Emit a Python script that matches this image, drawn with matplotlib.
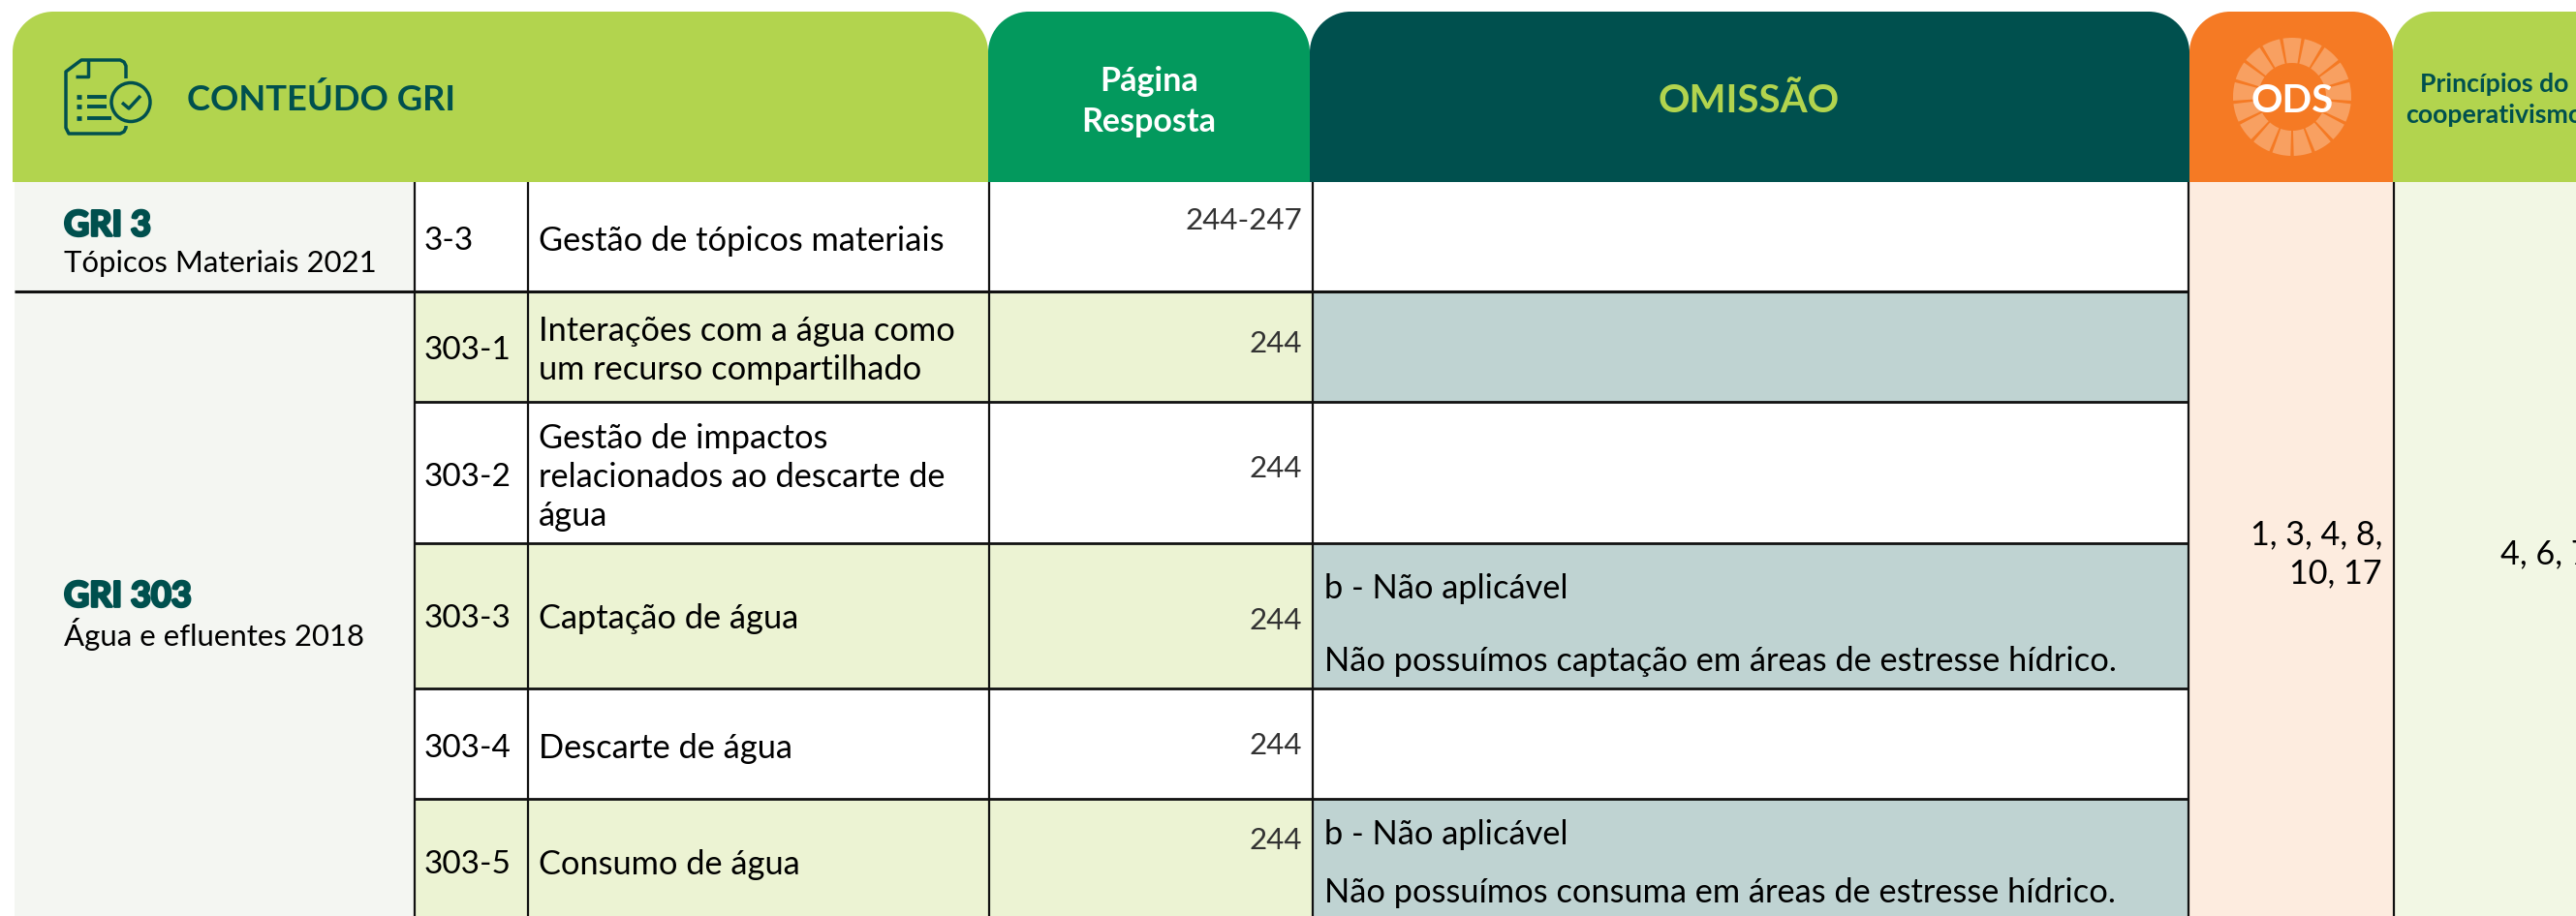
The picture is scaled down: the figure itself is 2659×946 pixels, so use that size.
import matplotlib
matplotlib.use("Agg")
import matplotlib.pyplot as plt
import matplotlib.patheffects as pe
from matplotlib.patches import Rectangle, Wedge, Circle, PathPatch
from matplotlib.path import Path

plt.rcParams['font.family'] = ['Lato', 'Open Sans', 'DejaVu Sans']

# colours
LIME = '#B2D44E'
GREEN = '#03995D'
TEAL = '#00504E'
ORANGE = '#F57A24'
LIME_PALE = '#ECF3D3'
GREY_PALE = '#F4F6F2'
BLUE_PALE = '#BFD3D2'
ORANGE_PALE = '#FDECDF'
LIME_PALER = '#F2F7E4'

# table content
headers = ['CONTEÚDO GRI', 'Página\nResposta', 'OMISSÃO', 'ODS', 'Princípios do\ncooperativismo']
group_names = ['GRI 3', 'GRI 303']
group_subtitles = ['Tópicos Materiais 2021', 'Água e efluentes 2018']
codes = ['3-3', '303-1', '303-2', '303-3', '303-4', '303-5']
titles = ['Gestão de tópicos materiais',
          'Interações com a água como\num recurso compartilhado',
          'Gestão de impactos\nrelacionados ao descarte de\nágua',
          'Captação de água',
          'Descarte de água',
          'Consumo de água']
pages = ['244-247', '244', '244', '244', '244', '244']
omission_first = ['', '', '', 'b - Não aplicável', '', 'b - Não aplicável']
omission_second = ['', '', '', 'Não possuímos captação em áreas de estresse hídrico.', '',
                   'Não possuímos consuma em áreas de estresse hídrico.']
ods_text = '1, 3, 4, 8,\n10, 17'
principles_text = '4, 6, 7'

# layout, in pixels of the 2659x946 picture
W, H = 2659, 946
col_x = [15, 428, 545, 1021, 1355, 2259, 2471]
row_y = [188, 301, 415, 561, 711, 825, 960]
head_edges = [13, 1020, 1352, 2260, 2470, 2720]
head_top = 12
text_y = [249, 362, 493, 639, 773, 893]
page_y = [228, 355, 484, 641, 770, 868]
omission_y = [None, None, None, (608, 683), None, (862, 922)]

fig = plt.figure(figsize=(W / 100, H / 100), dpi=100)
ax = fig.add_axes([0, 0, 1, 1])
ax.set_xlim(0, W)
ax.set_ylim(H, 0)
ax.axis('off')


def header_box(x0, x1, color, radius=42):
    # rounded on top, square at the bottom
    y0, y1 = head_top, row_y[0]
    k = 0.55 * radius
    verts = [(x0, y1), (x0, y0 + radius), (x0, y0 + radius - k), (x0 + radius - k, y0), (x0 + radius, y0),
             (x1 - radius, y0), (x1 - radius + k, y0), (x1, y0 + radius - k), (x1, y0 + radius),
             (x1, y1), (x0, y1)]
    c = [Path.MOVETO, Path.LINETO, Path.CURVE4, Path.CURVE4, Path.CURVE4,
         Path.LINETO, Path.CURVE4, Path.CURVE4, Path.CURVE4,
         Path.LINETO, Path.CLOSEPOLY]
    ax.add_patch(PathPatch(Path(verts, c), facecolor=color, edgecolor='none', zorder=2))


for i, color in enumerate([LIME, GREEN, TEAL, ORANGE, LIME]):
    header_box(head_edges[i], head_edges[i + 1], color)

# body fills
for i in range(6):
    y0, y1 = row_y[i], row_y[i + 1]
    stripe = i in (1, 3, 5)
    ax.add_patch(Rectangle((col_x[1], y0), col_x[4] - col_x[1], y1 - y0,
                           facecolor=LIME_PALE if stripe else 'white', edgecolor='none', zorder=1))
    ax.add_patch(Rectangle((col_x[4], y0), col_x[5] - col_x[4], y1 - y0,
                           facecolor=BLUE_PALE if stripe else 'white', edgecolor='none', zorder=1))
ax.add_patch(Rectangle((col_x[0], row_y[0]), col_x[1] - col_x[0], H - row_y[0], facecolor=GREY_PALE, edgecolor='none', zorder=1))
ax.add_patch(Rectangle((col_x[5], row_y[0]), col_x[6] - col_x[5], H - row_y[0], facecolor=ORANGE_PALE, edgecolor='none', zorder=1))
ax.add_patch(Rectangle((col_x[6], row_y[0]), W - col_x[6], H - row_y[0], facecolor=LIME_PALER, edgecolor='none', zorder=1))

# grid lines
for x in col_x[1:7]:
    ax.plot([x, x], [row_y[0], H], color='#111111', lw=1.6, zorder=3, solid_capstyle='butt')
ax.plot([col_x[0], col_x[5]], [row_y[1], row_y[1]], color='#111111', lw=2.2, zorder=3, solid_capstyle='butt')
for y in row_y[2:6]:
    ax.plot([col_x[1], col_x[5]], [y, y], color='#111111', lw=2.0, zorder=3, solid_capstyle='butt')

# header texts
ax.text(193, 103, headers[0], fontsize=26.2, fontweight='bold', color=TEAL, va='center', ha='left', zorder=5)
ax.text(1186, 105, headers[1], fontsize=24.5, fontweight='bold', color='white', va='center', ha='center', linespacing=1.41, zorder=5)
ax.text(1805, 105, headers[2], fontsize=29, fontweight='bold', color=LIME, va='center', ha='center', zorder=5)
ax.text(2575, 103, headers[4], fontsize=19.2, fontweight='bold', color=TEAL, va='center', ha='center', linespacing=1.37, zorder=5)

# ODS wheel
cx, cy = 2366, 100
for k in range(17):
    a = -90 + k * 360 / 17
    ax.add_patch(Wedge((cx, cy), 61, a - 9.0, a + 9.0, width=26, facecolor='#F8A061', edgecolor='none', zorder=3))
ax.text(cx, 104, headers[3], fontsize=29, fontweight='bold', color='white', va='center', ha='center', zorder=5)

# document icon
icon = dict(color=TEAL, lw=2.5, solid_capstyle='butt', solid_joinstyle='round', zorder=4)
ax.plot([130, 130, 128, 124, 84, 68, 68, 71, 124, 128, 130, 130],
        [81, 68, 64, 62, 62, 74, 132, 138, 138, 136, 132, 130], **icon)
ax.plot([78, 91, 91], [79, 79, 62], **icon)
ax.add_patch(Circle((135, 105.5), 20, facecolor='none', edgecolor=TEAL, lw=2.5, zorder=4))
ax.plot([126, 133, 145], [106, 112, 99], **icon)
for y, x1 in zip([100, 110, 122], [110, 110, 115]):
    ax.plot([79, 84], [y, y], color=TEAL, lw=3.4, solid_capstyle='butt', zorder=4)
    ax.plot([90, x1], [y, y], color=TEAL, lw=2.8, solid_capstyle='butt', zorder=4)

# left column
heavy = [pe.withStroke(linewidth=2.0, foreground=TEAL)]
for name, sub, y_name, y_sub in zip(group_names, group_subtitles, [233, 616], [272, 655]):
    ax.text(66, y_name, name, fontsize=26, fontweight='bold', color=TEAL, va='center', ha='left',
            zorder=5, path_effects=heavy)
    ax.text(66, y_sub, sub, fontsize=22.4, color='black', va='center', ha='left', zorder=5)

# rows
for i in range(6):
    ax.text(438, text_y[i], codes[i], fontsize=24, color='black', va='center', ha='left', zorder=5)
    ax.text(556, text_y[i], titles[i], fontsize=24.75, color='black', va='center', ha='left', linespacing=1.3, zorder=5)
    ax.text(1344, page_y[i], pages[i], fontsize=22.5, color='#333333', va='center', ha='right', zorder=5)
    if omission_y[i]:
        ax.text(1367, omission_y[i][0], omission_first[i], fontsize=24.75, color='black', va='center', ha='left', zorder=5)
        ax.text(1367, omission_y[i][1], omission_second[i], fontsize=24.75, color='black', va='center', ha='left', zorder=5)

ax.text(2459, 572, ods_text, fontsize=24.6, color='black', va='center', ha='right', multialignment='right', linespacing=1.32, zorder=5)
ax.text(2581, 572, principles_text, fontsize=24.6, color='black', va='center', ha='left', zorder=5)

fig.savefig('out.png', dpi=100)
